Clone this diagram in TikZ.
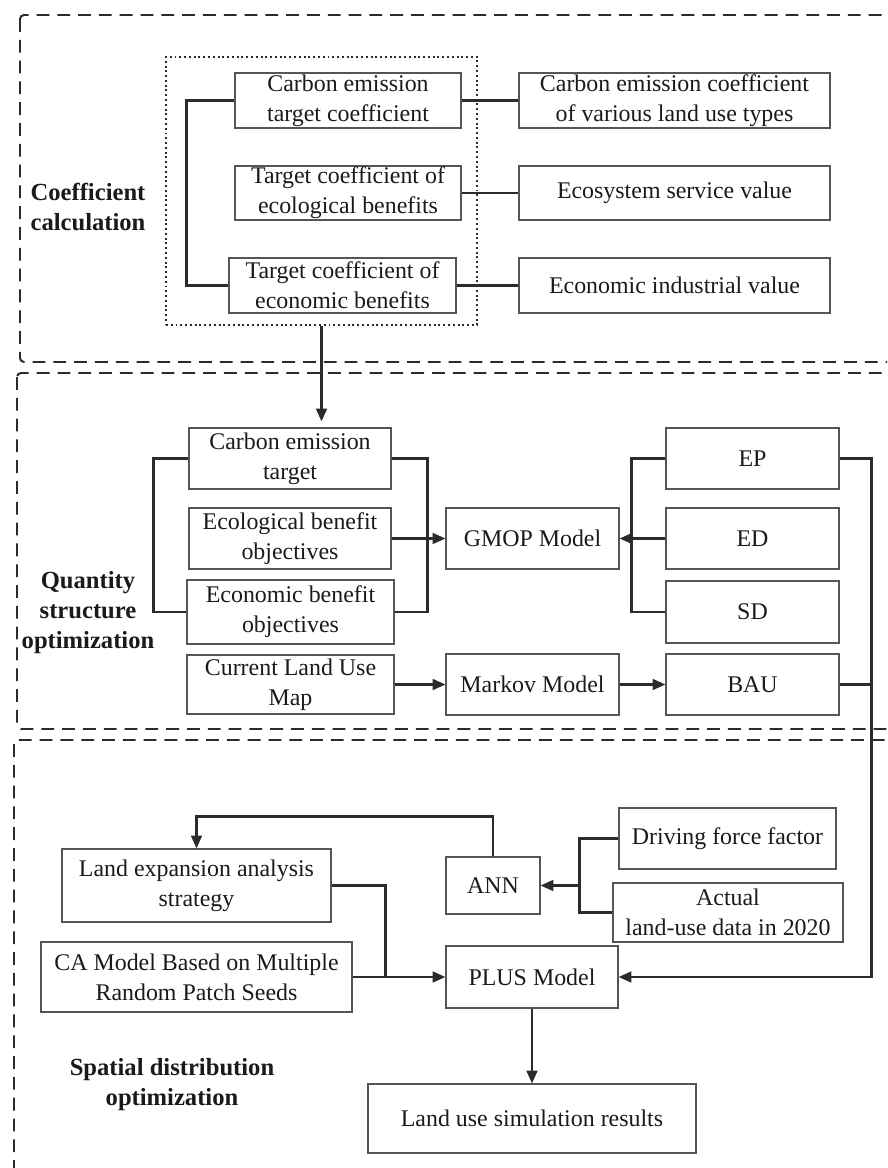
\documentclass[tikz,border=0pt]{standalone}
\usepackage{fontspec}
\setmainfont{Liberation Serif}
\usetikzlibrary{arrows.meta,positioning,calc}
\definecolor{boxline}{HTML}{555555}
\definecolor{wire}{HTML}{2B2B2B}
\definecolor{ink}{HTML}{1A1A1A}
\tikzset{
  blk/.style={draw=boxline, line width=0.8pt, align=center, inner sep=0pt, text=ink,
    font=\fontsize{17}{21.3}\selectfont},
  conn/.style={draw=wire, line width=1.6pt},
  arr/.style={conn, -{Triangle[length=0.32cm,width=0.27cm]}},
  stagebox/.style={draw=wire, line width=1.4pt, dash pattern=on 0.32cm off 0.2cm, rounded corners=0.1cm},
  grpbox/.style={draw=wire, line width=1.4pt, dotted, inner sep=0pt},
  stagetext/.style={align=center, text=ink, font=\fontsize{17.5}{21.3}\selectfont\bfseries}
}

\begin{document}
\begin{tikzpicture}[x=0.025cm, y=-0.025cm]
    \useasboundingbox (0,0) rectangle (887,1168);
    \clip (0,0) rectangle (887,1168);

    % Cadres des trois etapes
    \draw[stagebox] (20,15) rectangle (920,362);
    \draw[stagebox] (17,373) rectangle (920,729);
    \draw[stagebox] (14,740) rectangle (920,1200);
    \node[stagetext] (lab1) at (88,207) {Coefficient\\calculation};
    \node[stagetext] (lab2) at (88,613) {Quantity\\structure\\optimization};
    \node[stagetext] (lab3) at (172,1085) {Spatial distribution\\optimization};

    % Calcul des coefficients
    \node[grpbox, minimum width=7.775cm, minimum height=6.7cm] (grp) at (321.5,191) {};
    \node[blk, minimum width=5.65cm, minimum height=1.375cm] (cet) at (348,100.5) {Carbon emission\\target coefficient};
    \node[blk, minimum width=5.65cm, minimum height=1.35cm] (tce) at (348,193) {Target coefficient of\\ecological benefits};
    \node[blk, minimum width=5.675cm, minimum height=1.375cm] (tcn) at (342.5,285.5) {Target coefficient of\\economic benefits};
    \node[blk, minimum width=7.775cm, minimum height=1.375cm] (cec) at (674.5,100.5) {Carbon emission coefficient\\of various land use types};
    \node[blk, minimum width=7.775cm, minimum height=1.35cm] (esv) at (674.5,193) {Ecosystem service value};
    \node[blk, minimum width=7.775cm, minimum height=1.375cm] (eiv) at (674.5,285.5) {Economic industrial value};
    \draw[conn] (cet.west) -- ++(-48,0) |- (tcn.west);
    \draw[conn] (cet.east) -- (cec.west);
    \draw[conn] (tce.east) -- (esv.west);
    \draw[conn] (tcn.east) -- (eiv.west);

    % Optimisation de la structure
    \node[blk, minimum width=5.05cm, minimum height=1.525cm] (ctg) at (290,458.5) {Carbon emission\\target};
    \node[blk, minimum width=5.05cm, minimum height=1.525cm] (ebo) at (290,538.5) {Ecological benefit\\objectives};
    \node[blk, minimum width=5.175cm, minimum height=1.6cm] (nbo) at (290.5,612) {Economic benefit\\objectives};
    \node[blk, minimum width=5.175cm, minimum height=1.475cm] (clu) at (290.5,684.5) {Current Land Use\\Map};
    \node[blk, minimum width=4.325cm, minimum height=1.525cm] (gmop) at (532.5,538.5) {GMOP Model};
    \node[blk, minimum width=4.325cm, minimum height=1.525cm] (mkv) at (532.5,684.5) {Markov Model};
    \node[blk, minimum width=4.325cm, minimum height=1.525cm] (ep) at (752.5,458.5) {EP};
    \node[blk, minimum width=4.325cm, minimum height=1.525cm] (ed) at (752.5,538.5) {ED};
    \node[blk, minimum width=4.325cm, minimum height=1.55cm] (sd) at (752.5,612) {SD};
    \node[blk, minimum width=4.325cm, minimum height=1.525cm] (bau) at (752.5,684.5) {BAU};
    \draw[arr, shorten >=0.15cm] (grp.south) -- (grp.south |- ctg.north);
    \draw[conn] (ctg.west) -- ++(-35,0) |- (nbo.west);
    \draw[conn] (ctg.east) -- ++(36,0) |- (nbo.east);
    \draw[arr] (ebo.east) -- (gmop.west);
    \draw[conn] (ep.west) -- ++(-34,0) |- (sd.west);
    \draw[arr] (ed.west) -- (gmop.east);
    \draw[arr] (clu.east) -- (mkv.west);
    \draw[arr] (mkv.east) -- (bau.west);

    % Optimisation spatiale
    \node[blk, minimum width=5.425cm, minimum height=1.525cm] (dff) at (727.5,838.5) {Driving force factor};
    \node[blk, minimum width=5.75cm, minimum height=1.475cm] (ald) at (728,912.5) {Actual\\land-use data in 2020};
    \node[blk, minimum width=2.35cm, minimum height=1.425cm] (ann) at (493,885.5) {ANN};
    \node[blk, minimum width=6.725cm, minimum height=1.825cm] (les) at (196.5,885.5) {Land expansion analysis\\strategy};
    \node[blk, minimum width=7.775cm, minimum height=1.75cm] (cam) at (196.5,977) {CA Model Based on Multiple\\Random Patch Seeds};
    \node[blk, minimum width=4.3cm, minimum height=1.55cm] (plus) at (532,977) {PLUS Model};
    \node[blk, minimum width=8.2cm, minimum height=1.725cm] (res) at (532,1118.5) {Land use simulation results};
    \draw[arr] (ep.east) -- ++(32,0) |- (plus.east);
    \draw[conn] (bau.east) -- ++(32,0);
    \draw[conn] (dff.west) -- ++(-39,0) coordinate (jd) |- (ald.west);
    \draw[arr] (jd |- ann.east) -- (ann.east);
    \draw[arr] (ann.north) -- ++(0,-40) -| (les.north);
    \draw[conn] (les.east) -- ++(54,0) coordinate (jl) -- (jl |- plus.west);
    \draw[arr] (cam.east) -- (plus.west);
    \draw[arr] (plus.south) -- (res.north);
\end{tikzpicture}
\end{document}
